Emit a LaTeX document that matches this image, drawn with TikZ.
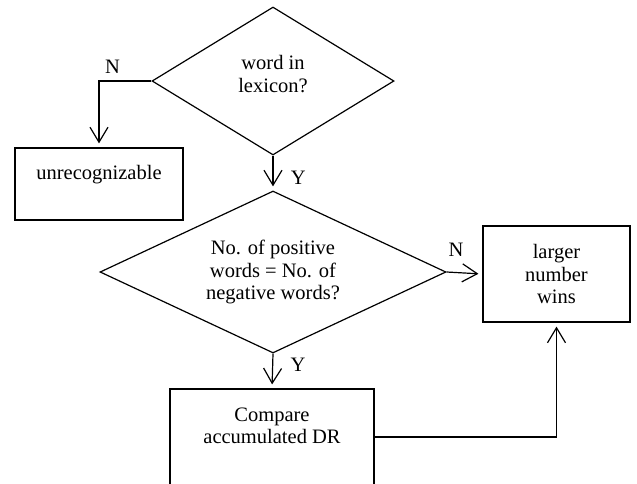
\documentclass[tikz,border=0pt]{standalone}
\usepackage{fontspec}
\setmainfont{Liberation Serif}
\usetikzlibrary{arrows.meta,shapes.geometric}

\begin{document}
\begin{tikzpicture}[x=1pt,y=-1pt,>={Straight Barb[length=15pt,width=18pt]}]
\tikzstyle{every node}=[font=\fontsize{20.5}{22.5}\selectfont]
\tikzstyle{decision}=[diamond,draw,line width=1.2pt,inner sep=0pt,align=center,shape aspect=2]
\tikzstyle{block}=[rectangle,draw,line width=1.2pt,align=center]
\tikzstyle{edge}=[draw,line width=1.2pt]
\tikzstyle{arrow}=[edge,->,shorten >=4pt]
\clip (0,0) rectangle (637,483);
\node[decision,minimum width=242pt,minimum height=148pt,text depth=14pt] (lex) at (273,81) {word in\\lexicon?};
\node[decision,minimum width=346pt,minimum height=162pt] (equal) at (273,272) {No. of positive\\words = No. of\\negative words?};
\node[block,minimum width=168pt,minimum height=72pt] (unrec) at (99,184) {unrecognizable\\\mbox{}};
\node[block,minimum width=147pt,minimum height=96pt] (larger) at (556.5,274) {larger\\number\\wins};
\node[block,minimum width=204pt,minimum height=96pt] (comp) at (272,437) {Compare\\accumulated DR\\\mbox{}};
\path[arrow] (lex.west) -| (unrec.north) node[pos=0.37,above=4pt] {N};
\path[arrow] (lex.south) -- (equal.north) node[pos=0.64,right=14pt] {Y};
\path[arrow] (equal.east) -- (larger.west) node[pos=0.26,above=12pt] {N};
\path[arrow] (equal.south) -- (comp.north) node[pos=0.33,right=14pt] {Y};
\path[arrow] (comp.east) -| (larger.south);
\end{tikzpicture}
\end{document}
